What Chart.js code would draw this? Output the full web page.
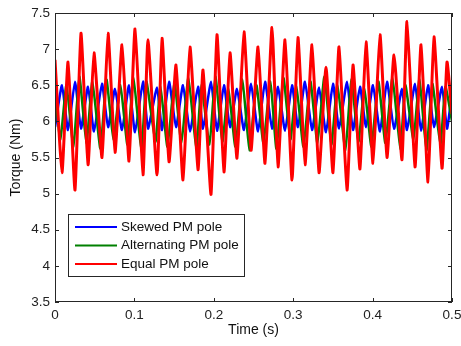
<!DOCTYPE html>
<html>
<head>
<meta charset="utf-8">
<script src="https://cdn.jsdelivr.net/npm/chart.js@4"></script>
<style>
  html, body { margin: 0; padding: 0; background: #fff; }
  canvas { display: block; }
</style>
</head>
<body>
<canvas id="torqueChart" width="461" height="346"></canvas>
<script>
// extrema (time in s, torque in Nm)
const redTime = [0, 0.0088, 0.0164, 0.0252, 0.0327, 0.0416, 0.0491, 0.0592, 0.0668, 0.0756,
  0.0844, 0.0932, 0.1008, 0.1108, 0.1171, 0.1285, 0.1348, 0.1436, 0.1524, 0.1612,
  0.1700, 0.1801, 0.1864, 0.1965, 0.2040, 0.2128, 0.2204, 0.2292, 0.2380, 0.2469,
  0.2557, 0.2645, 0.2733, 0.2809, 0.2897, 0.2985, 0.3060, 0.3149, 0.3237, 0.3325,
  0.3413, 0.3501, 0.3577, 0.3678, 0.3753, 0.3841, 0.3917, 0.4005, 0.4093, 0.4181,
  0.4270, 0.4370, 0.4433, 0.4534, 0.4610, 0.4698, 0.4773, 0.4874, 0.4937, 0.5]
const redTorque = [6.85, 5.29, 6.82, 5.05, 7.22, 5.40, 6.95, 5.50, 7.22, 5.57,
  7.06, 5.45, 7.28, 5.26, 7.13, 5.26, 7.15, 5.44, 6.78, 5.19,
  7.03, 5.33, 6.71, 4.99, 7.20, 5.30, 6.95, 5.49, 7.24, 5.60,
  7.03, 5.42, 7.30, 5.37, 7.13, 5.19, 7.16, 5.40, 7.06, 5.29,
  6.75, 5.29, 7.03, 5.05, 6.78, 5.34, 7.10, 5.42, 7.20, 5.50,
  6.92, 5.47, 7.38, 5.37, 7.06, 5.16, 7.17, 5.35, 6.82, 6.10]

const greenTime = [0, 0.0068, 0.0144, 0.0232, 0.0307, 0.0396, 0.0471, 0.0572, 0.0648, 0.0736,
  0.0824, 0.0912, 0.0988, 0.1088, 0.1151, 0.1265, 0.1328, 0.1416, 0.1504, 0.1592,
  0.1680, 0.1781, 0.1844, 0.1945, 0.2020, 0.2108, 0.2184, 0.2272, 0.2360, 0.2449,
  0.2537, 0.2625, 0.2713, 0.2789, 0.2877, 0.2965, 0.3040, 0.3129, 0.3217, 0.3305,
  0.3393, 0.3481, 0.3557, 0.3658, 0.3733, 0.3821, 0.3897, 0.3985, 0.4073, 0.4161,
  0.4250, 0.4350, 0.4413, 0.4514, 0.4590, 0.4678, 0.4753, 0.4854, 0.4917, 0.5]
const greenTorque = [6.40, 5.75, 6.50, 5.65, 6.62, 5.70, 6.55, 5.62, 6.58, 5.75,
  6.50, 5.68, 6.60, 5.60, 6.55, 5.72, 6.48, 5.65, 6.55, 5.70,
  6.60, 5.62, 6.50, 5.68, 6.62, 5.72, 6.45, 5.65, 6.58, 5.60,
  6.50, 5.70, 6.55, 5.62, 6.60, 5.75, 6.48, 5.65, 6.55, 5.70,
  6.62, 5.68, 6.50, 5.60, 6.58, 5.72, 6.45, 5.65, 6.55, 5.70,
  6.60, 5.62, 6.50, 5.75, 6.58, 5.60, 6.52, 5.68, 6.48, 6.00]

const blueTime = redTime.slice()
const blueTorque = [5.92, 6.50, 5.88, 6.55, 5.90, 6.48, 5.86, 6.52, 5.92, 6.45,
  5.88, 6.50, 5.85, 6.55, 5.90, 6.47, 5.88, 6.55, 5.92, 6.50,
  5.86, 6.48, 5.90, 6.55, 5.87, 6.50, 5.92, 6.45, 5.88, 6.52,
  5.86, 6.55, 5.90, 6.48, 5.87, 6.50, 5.92, 6.55, 5.88, 6.47,
  5.85, 6.52, 5.90, 6.55, 5.88, 6.48, 5.92, 6.50, 5.86, 6.55,
  5.90, 6.45, 5.88, 6.52, 5.87, 6.50, 5.92, 6.48, 5.90, 6.40]

const seriesLabels = ['Skewed PM pole', 'Alternating PM pole', 'Equal PM pole']
const xTicks = [0, 0.1, 0.2, 0.3, 0.4, 0.5]
const yTicks = [3.5, 4, 4.5, 5, 5.5, 6, 6.5, 7, 7.5]

const FONT = "'Liberation Sans', Arial, sans-serif"
const toPts = (t, v) => t.map((x, i) => ({ x: x, y: v[i] }))

// matlab style box with inward ticks on all four sides + legend inside the axes
const matlabAxes = {
  id: 'matlabAxes',
  afterDatasetsDraw(chart) {
    const { ctx, chartArea: a, scales } = chart
    ctx.save()
    ctx.strokeStyle = '#262626'
    ctx.lineWidth = 1
    ctx.strokeRect(a.left + 0.5, a.top + 0.5, a.right - a.left - 1, a.bottom - a.top - 1)
    ctx.beginPath()
    xTicks.forEach(t => {
      const px = Math.round(scales.x.getPixelForValue(t)) + 0.5
      ctx.moveTo(px, a.bottom); ctx.lineTo(px, a.bottom - 4)
      ctx.moveTo(px, a.top); ctx.lineTo(px, a.top + 4)
    })
    yTicks.forEach(t => {
      const py = Math.round(scales.y.getPixelForValue(t)) + 0.5
      ctx.moveTo(a.left, py); ctx.lineTo(a.left + 4, py)
      ctx.moveTo(a.right, py); ctx.lineTo(a.right - 4, py)
    })
    ctx.stroke()

    // legend box
    const lx = 68, ly = 214, lw = 176, lh = 62
    ctx.fillStyle = '#fff'
    ctx.fillRect(lx, ly, lw, lh)
    ctx.strokeRect(lx + 0.5, ly + 0.5, lw, lh)
    ctx.font = '13.5px ' + FONT
    ctx.textBaseline = 'middle'
    chart.data.datasets.forEach((ds, i) => {
      const y = ly + 13 + i * 18.5
      ctx.strokeStyle = ds.borderColor
      ctx.lineWidth = 2
      ctx.beginPath()
      ctx.moveTo(75, y); ctx.lineTo(117, y)
      ctx.stroke()
      ctx.fillStyle = '#111'
      ctx.fillText(ds.label, 121, y)
    })
    ctx.restore()
  }
}

const config = {
  type: 'line',
  data: {
    datasets: [{
      label: seriesLabels[0],
      data: toPts(blueTime, blueTorque),
      borderColor: '#0000ff',
      borderWidth: 2.5,
      order: 2
    }, {
      label: seriesLabels[1],
      data: toPts(greenTime, greenTorque),
      borderColor: '#008000',
      borderWidth: 2.5,
      order: 1
    }, {
      label: seriesLabels[2],
      data: toPts(redTime, redTorque),
      borderColor: '#ff0000',
      borderWidth: 3,
      order: 0
    }]
  },
  options: {
    responsive: false,
    animation: false,
    events: [],
    elements: {
      point: { radius: 0 },
      line: { tension: 0.15, fill: false }
    },
    layout: { padding: { top: 13, right: 9, left: 0, bottom: 0 } },
    plugins: {
      legend: { display: false },
      tooltip: { enabled: false }
    },
    scales: {
      x: {
        type: 'linear',
        min: 0, max: 0.5,
        afterBuildTicks: s => { s.ticks = xTicks.map(v => ({ value: v })) },
        afterFit: s => { s.height = 44; s.paddingLeft = 0; s.paddingRight = 0 },
        grid: { display: false, drawTicks: false },
        border: { display: false },
        ticks: { color: '#222', font: { family: FONT, size: 13.5 }, padding: 5, callback: v => String(v) },
        title: { display: true, text: 'Time (s)', color: '#111', font: { family: FONT, size: 14 }, padding: { top: 0, bottom: 7 } }
      },
      y: {
        min: 3.5, max: 7.5,
        afterBuildTicks: s => { s.ticks = yTicks.map(v => ({ value: v })) },
        afterFit: s => { s.width = 55; s.paddingTop = 0; s.paddingBottom = 0 },
        grid: { display: false, drawTicks: false },
        border: { display: false },
        ticks: { color: '#222', font: { family: FONT, size: 13.5 }, padding: 5, callback: v => String(v) },
        title: { display: true, text: 'Torque (Nm)', color: '#111', font: { family: FONT, size: 14 }, padding: { top: 8, bottom: 0 } }
      }
    }
  },
  plugins: [matlabAxes]
}

new Chart(document.getElementById('torqueChart'), config)
</script>
</body>
</html>
